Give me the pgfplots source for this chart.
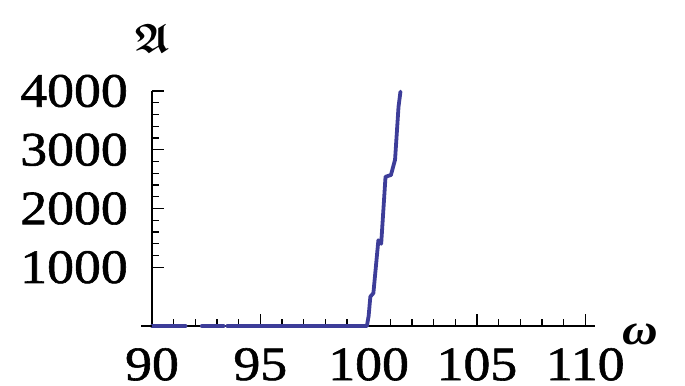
\documentclass[border=0pt]{standalone}
\usepackage{amsmath,amssymb}
\usepackage{fontspec}
\setmainfont{Liberation Serif}[FakeStretch=1.12]
\newfontfamily\tickfont{Liberation Serif}[FakeStretch=1.12, FakeBold=1.2]
\usepackage{pgfplots}
\pgfplotsset{compat=1.18}
\definecolor{mline}{RGB}{61,61,153}
\begin{document}
\begin{tikzpicture}
\begin{axis}[
  scale only axis,
  width=443bp, height=235bp,
  at={(0,0)}, anchor=south west,
  xmin=90, xmax=110.45, ymin=0, ymax=4000,
  axis lines=left,
  axis line style={-, line width=1.3bp, black},
  clip=false,
  xtick={90,95,100,105,110},
  ytick={1000,2000,3000,4000},
  minor x tick num=4,
  minor y tick num=4,
  tick align=inside,
  major tick length=12bp,
  minor tick length=7bp,
  tick style={line width=1.2bp, black},
  scaled ticks=false,
  /pgf/number format/assume math mode=true,
  /pgf/number format/1000 sep={},
  xticklabel style={font=\tickfont\fontsize{48bp}{50bp}\selectfont, inner sep=0pt, anchor=north, yshift=-22bp},
  yticklabel style={font=\tickfont\fontsize{48bp}{50bp}\selectfont, inner sep=0pt, anchor=east, xshift=-24bp},
]
\addplot[mline, line width=3.8bp, line join=round, line cap=round] coordinates {(90,0) (91.55,0)};
\addplot[mline, line width=3.8bp, line join=round, line cap=round] coordinates {(92.3,0) (93.3,0)};
\addplot[mline, line width=3.8bp, line join=round, line cap=round] coordinates {
(93.45,0) (99.92,0) (100.0,170) (100.08,500) (100.22,560) (100.45,1460) (100.58,1400)
(100.78,2540) (101.03,2570) (101.22,2830) (101.38,3730) (101.47,3990)};
\draw[line width=1.3bp, black] (axis cs:89.5,0) -- (axis cs:90,0);
\end{axis}
\node at (0bp,288bp) {\fontsize{41bp}{43bp}\selectfont$\boldsymbol{\mathfrak{A}}$};
\node at (488bp,-8bp) {\fontsize{44bp}{46bp}\selectfont\textbf{\textit{ω}}};
\pgfresetboundingbox
\useasboundingbox (-152bp,-60bp) rectangle (533bp,326bp);
\end{tikzpicture}
\end{document}
